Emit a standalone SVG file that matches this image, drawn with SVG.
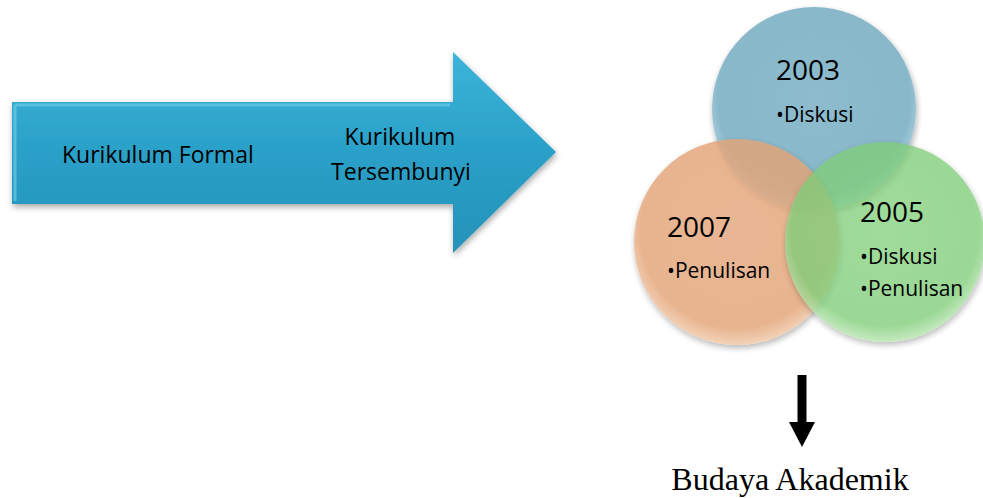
<svg xmlns="http://www.w3.org/2000/svg" width="983" height="498" viewBox="0 0 983 498">
  <style>
    .sans { font-family: "Open Sans", Lato, "Liberation Sans", sans-serif; fill: #000; }
    .year { font-size: 28px; }
    .item { font-size: 21px; }
    .label { font-size: 23px; }
    .serif { font-family: "Liberation Serif", serif; font-size: 32px; fill: #000; }
  </style>
  <defs>
    <linearGradient id="arrowFill" x1="0" y1="0" x2="0" y2="1">
      <stop offset="0" stop-color="#3cb4d8"/>
      <stop offset="0.5" stop-color="#2aa0c8"/>
      <stop offset="1" stop-color="#2592b8"/>
    </linearGradient>
    <radialGradient id="blueFill" cx="0.5" cy="0.45" r="0.55">
      <stop offset="0" stop-color="#85b7ca"/>
      <stop offset="0.85" stop-color="#7eb2c6"/>
      <stop offset="1" stop-color="#a9cfdc"/>
    </radialGradient>
    <radialGradient id="orangeFill" cx="0.5" cy="0.45" r="0.55">
      <stop offset="0" stop-color="#e5a77c"/>
      <stop offset="0.85" stop-color="#e3a478"/>
      <stop offset="1" stop-color="#f1c9a8"/>
    </radialGradient>
    <radialGradient id="greenFill" cx="0.5" cy="0.45" r="0.55">
      <stop offset="0" stop-color="#86d17f"/>
      <stop offset="0.85" stop-color="#7fcd78"/>
      <stop offset="1" stop-color="#b6e4ae"/>
    </radialGradient>
    <filter id="soft" x="-10%" y="-10%" width="120%" height="130%">
      <feGaussianBlur in="SourceAlpha" stdDeviation="3"/>
      <feOffset dx="1" dy="3" result="b"/>
      <feComponentTransfer><feFuncA type="linear" slope="0.35"/></feComponentTransfer>
      <feMerge><feMergeNode/><feMergeNode in="SourceGraphic"/></feMerge>
    </filter>
    <marker id="down" markerWidth="26" markerHeight="26" refX="0" refY="13" orient="auto" markerUnits="userSpaceOnUse" viewBox="0 0 26 26">
      <path d="M0,0 L25,13 L0,26 Z" fill="#000"/>
    </marker>
  </defs>

  <!-- big process arrow -->
  <g id="process-arrow">
    <path d="M12,102 L453,102 L453,52 L556,152 L453,253 L453,204 L12,204 Z" fill="url(#arrowFill)" filter="url(#soft)"/>
    <path d="M15,105 L450,105 M15,105 L15,201" stroke="#6cc9e6" stroke-width="3" fill="none" opacity="0.7"/>
    <text class="sans label" x="62" y="163">Kurikulum Formal</text>
    <text class="sans label" x="400" y="145" text-anchor="middle">Kurikulum</text>
    <text class="sans label" x="401" y="180" text-anchor="middle">Tersembunyi</text>
  </g>

  <!-- overlapping circles -->
  <g id="circle-2003">
    <circle cx="814" cy="109" r="102" fill="url(#blueFill)" opacity="0.92" filter="url(#soft)"/>
    <text class="sans year" x="776" y="80">2003</text>
    <text class="sans item" x="776" y="122">•Diskusi</text>
  </g>
  <g id="circle-2007">
    <circle cx="737" cy="242" r="103" fill="url(#orangeFill)" opacity="0.82" filter="url(#soft)"/>
    <text class="sans year" x="667" y="237">2007</text>
    <text class="sans item" x="667" y="278">•Penulisan</text>
  </g>
  <g id="circle-2005">
    <circle cx="885" cy="242" r="100" fill="url(#greenFill)" opacity="0.78" filter="url(#soft)"/>
    <text class="sans year" x="860" y="222">2005</text>
    <text class="sans item" x="860" y="264">•Diskusi</text>
    <text class="sans item" x="860" y="296">•Penulisan</text>
  </g>

  <!-- connector to result -->
  <g id="connectors">
    <line x1="802" y1="375" x2="802" y2="422" stroke="#000" stroke-width="9" marker-end="url(#down)"/>
  </g>

  <g id="result">
    <text class="serif" x="790" y="490" text-anchor="middle">Budaya Akademik</text>
  </g>
</svg>
